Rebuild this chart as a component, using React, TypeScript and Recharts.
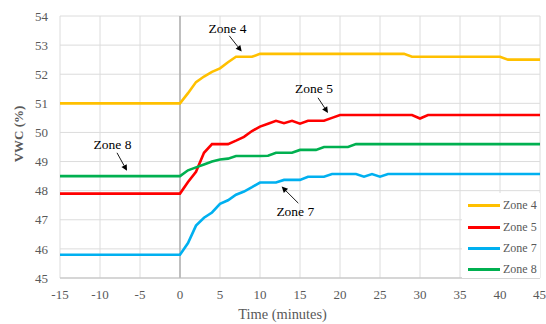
import React from 'react';
import {
  LineChart,
  Line,
  XAxis,
  YAxis,
  CartesianGrid,
  ReferenceLine,
  Legend,
} from 'recharts';

const times = [
  -15, 0, 1, 2, 3, 4, 5, 6, 7, 8, 9, 10, 11, 12, 13, 14, 15, 16, 17, 18, 19, 20,
  21, 22, 23, 24, 25, 26, 27, 28, 29, 30, 31, 32, 33, 34, 35, 36, 37, 38, 39, 40,
  41, 42, 43, 44, 45,
];

const zone4 = [
  51.0, 51.0, 51.35, 51.73, 51.92, 52.08, 52.2, 52.41, 52.6, 52.6, 52.6, 52.7,
  52.7, 52.7, 52.7, 52.7, 52.7, 52.7, 52.7, 52.7, 52.7, 52.7, 52.7, 52.7, 52.7,
  52.7, 52.7, 52.7, 52.7, 52.7, 52.6, 52.6, 52.6, 52.6, 52.6, 52.6, 52.6, 52.6,
  52.6, 52.6, 52.6, 52.6, 52.5, 52.5, 52.5, 52.5, 52.5,
];

const zone5 = [
  47.9, 47.9, 48.3, 48.65, 49.3, 49.6, 49.6, 49.6, 49.72, 49.85, 50.05, 50.2,
  50.3, 50.4, 50.32, 50.4, 50.3, 50.4, 50.4, 50.4, 50.5, 50.6, 50.6, 50.6, 50.6,
  50.6, 50.6, 50.6, 50.6, 50.6, 50.6, 50.48, 50.6, 50.6, 50.6, 50.6, 50.6, 50.6,
  50.6, 50.6, 50.6, 50.6, 50.6, 50.6, 50.6, 50.6, 50.6,
];

const zone7 = [
  45.8, 45.8, 46.2, 46.8, 47.07, 47.25, 47.55, 47.67, 47.86, 47.97, 48.12, 48.28,
  48.28, 48.28, 48.37, 48.37, 48.37, 48.48, 48.48, 48.48, 48.57, 48.57, 48.57,
  48.57, 48.48, 48.57, 48.48, 48.57, 48.57, 48.57, 48.57, 48.57, 48.57, 48.57,
  48.57, 48.57, 48.57, 48.57, 48.57, 48.57, 48.57, 48.57, 48.57, 48.57, 48.57,
  48.57, 48.57,
];

const zone8 = [
  48.5, 48.5, 48.7, 48.8, 48.9, 49.0, 49.07, 49.1, 49.19, 49.19, 49.19, 49.19,
  49.2, 49.3, 49.3, 49.3, 49.4, 49.4, 49.4, 49.5, 49.5, 49.5, 49.5, 49.6, 49.6,
  49.6, 49.6, 49.6, 49.6, 49.6, 49.6, 49.6, 49.6, 49.6, 49.6, 49.6, 49.6, 49.6,
  49.6, 49.6, 49.6, 49.6, 49.6, 49.6, 49.6, 49.6, 49.6,
];

const xTicks = [-15, -10, -5, 0, 5, 10, 15, 20, 25, 30, 35, 40, 45];
const yTicks = [45, 46, 47, 48, 49, 50, 51, 52, 53, 54];

const seriesNames = ['Zone 4', 'Zone 5', 'Zone 7', 'Zone 8'];
const seriesKeys = ['z4', 'z5', 'z7', 'z8'];
const seriesColors = ['#FFC000', '#FF0000', '#00B0F0', '#00B050'];

// annotation arrows: start point, end point (data units) and label
const annoLabels = ['Zone 4', 'Zone 5', 'Zone 8', 'Zone 7'];
const annoStart = [
  { x: 6.16, y: 53.32 },
  { x: 17.25, y: 51.19 },
  { x: -7.875, y: 49.3 },
  { x: 14.79, y: 47.57 },
];
const annoEnd = [
  { x: 7.71, y: 52.78 },
  { x: 18.5, y: 50.67 },
  { x: -6.625, y: 48.68 },
  { x: 12.71, y: 48.14 },
];
const annoTextOffset = [
  { dx: -1.8, dy: -2.7 },
  { dx: -4, dy: -5 },
  { dx: -4.5, dy: -4 },
  { dx: -3, dy: 13.2 },
];

const data = times.map((t, i) => ({
  t,
  z4: zone4[i],
  z5: zone5[i],
  z7: zone7[i],
  z8: zone8[i],
}));

const FONT = '"Liberation Serif", serif';

const ArrowShape = (props: any) => {
  const { x1, y1, x2, y2, label, tdx, tdy } = props;
  const ang = Math.atan2(y2 - y1, x2 - x1);
  const len = 6;
  const w = 3;
  const bx = x2 - len * Math.cos(ang);
  const by = y2 - len * Math.sin(ang);
  const px = -Math.sin(ang) * w;
  const py = Math.cos(ang) * w;
  return (
    <g>
      <line x1={x1} y1={y1} x2={bx} y2={by} stroke="#000" strokeWidth={0.9} />
      <polygon
        points={`${x2},${y2} ${bx + px},${by + py} ${bx - px},${by - py}`}
        fill="#000"
      />
      <text
        x={x1 + tdx}
        y={y1 + tdy}
        textAnchor="middle"
        fontFamily={FONT}
        fontSize={13.5}
        fill="#000"
      >
        {label}
      </text>
    </g>
  );
};

const LegendBox = () => (
  <div
    style={{
      background: '#fff',
      width: 78,
      height: 85,
      boxSizing: 'border-box',
      paddingTop: 2,
    }}
  >
    {seriesNames.map((n, i) => (
      <div
        key={n}
        style={{
          display: 'flex',
          alignItems: 'center',
          height: 21.4,
          fontFamily: FONT,
          fontSize: 12,
          color: '#595959',
        }}
      >
        <div
          style={{
            width: 32,
            height: 3,
            background: seriesColors[i],
            marginLeft: 6,
            marginRight: 3,
          }}
        />
        <span>{n}</span>
      </div>
    ))}
  </div>
);

export default function App() {
  return (
    <div style={{ position: 'absolute', left: 0, top: 0, background: '#fff' }}>
      <LineChart
        width={546}
        height={324}
        data={data}
        margin={{ top: 16, right: 6, left: 0, bottom: 0 }}
      >
        <CartesianGrid stroke="#dcdcdc" strokeWidth={1} />
        <XAxis
          dataKey="t"
          type="number"
          domain={[-15, 45]}
          ticks={xTicks}
          height={46}
          axisLine={{ stroke: '#bfbfbf' }}
          tickLine={false}
          tickMargin={6}
          tick={{ fontFamily: FONT, fontSize: 13, fill: '#595959' }}
          label={{
            content: () => (
              <text
                x={282.5}
                y={319}
                textAnchor="middle"
                fontFamily={FONT}
                fontSize={14.4}
                fill="#595959"
              >
                Time (minutes)
              </text>
            ),
          }}
        />
        <YAxis
          type="number"
          domain={[45, 54]}
          ticks={yTicks}
          width={60}
          axisLine={false}
          tickLine={false}
          tickMargin={6}
          tick={{ fontFamily: FONT, fontSize: 13, fill: '#595959' }}
          label={{
            content: () => (
              <text
                x={23}
                y={134}
                textAnchor="middle"
                fontFamily={FONT}
                fontSize={13}
                fontWeight="bold"
                fill="#595959"
                transform="rotate(-90, 23, 134)"
              >
                VWC (%)
              </text>
            ),
          }}
        />
        <ReferenceLine x={0} stroke="#a6a6a6" strokeWidth={1.3} />
        {seriesKeys.map((k, i) => (
          <Line
            key={k}
            type="linear"
            dataKey={k}
            name={seriesNames[i]}
            stroke={seriesColors[i]}
            strokeWidth={2.6}
            dot={false}
            activeDot={false}
            isAnimationActive={false}
          />
        ))}
        {annoLabels.map((lab, i) => (
          <ReferenceLine
            key={lab}
            segment={[annoStart[i], annoEnd[i]]}
            ifOverflow="visible"
            shape={(p: any) => (
              <ArrowShape
                {...p}
                label={lab}
                tdx={annoTextOffset[i].dx}
                tdy={annoTextOffset[i].dy}
              />
            )}
          />
        ))}
        <Legend
          layout="vertical"
          align="center"
          verticalAlign="middle"
          wrapperStyle={{ left: 462, top: 193, width: 78, height: 85 }}
          content={() => <LegendBox />}
        />
      </LineChart>
    </div>
  );
}
